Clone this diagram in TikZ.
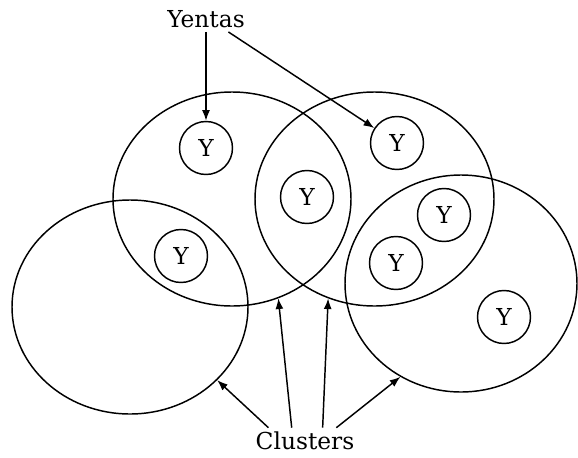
\documentclass[tikz,border=0pt]{standalone}
\usepackage{fontspec}
\setmainfont{DejaVu Serif}
\usepackage{tikz}
\usetikzlibrary{arrows.meta,shapes.geometric}

\begin{document}
\begin{tikzpicture}[
    x=0.75pt, y=-0.75pt,
    font=\fontsize{17.5}{20}\selectfont,
    cluster/.style={ellipse, draw, line width=1.1pt, inner sep=0pt},
    yenta/.style={circle, draw, line width=1.1pt, minimum size=39.75pt, inner sep=0pt},
    label/.style={inner sep=3pt},
    arrow/.style={-{Latex[length=8pt,width=6pt]}, line width=1.1pt}
]
\useasboundingbox (0,0) rectangle (578,457);

% Clusters
\node[cluster, minimum width=178.5pt, minimum height=160.5pt] (c1) at (232,199) {};
\node[cluster, minimum width=179.25pt, minimum height=160.5pt] (c2) at (374.5,199) {};
\node[cluster, minimum width=177pt, minimum height=160.5pt] (c3) at (130,307) {};
\node[cluster, minimum width=174pt, minimum height=162.75pt] (c4) at (461,283.5) {};

% Yentas
\node[yenta] (y1) at (206,148) {Y};
\node[yenta] (y2) at (307,197) {Y};
\node[yenta] (y3) at (181,256) {Y};
\node[yenta] (y4) at (397,143) {Y};
\node[yenta] (y5) at (444,215) {Y};
\node[yenta] (y6) at (396,263) {Y};
\node[yenta] (y7) at (504,317) {Y};

% Labels
\node[label] (yentas) at (206,19) {Yentas};
\node[label] (clusters) at (305,441) {Clusters};

% Connections
\draw[arrow] (yentas.south) -- (y1);
\draw[arrow] (yentas.-30) -- (y4);

\draw[arrow] (clusters.160) -- (c3.-40);
\draw[arrow] (clusters.135) -- (c1.-65);
\draw[arrow] (clusters.37) -- (c2.-115);
\draw[arrow] (clusters.23) -- (c4.-123);

\end{tikzpicture}
\end{document}
